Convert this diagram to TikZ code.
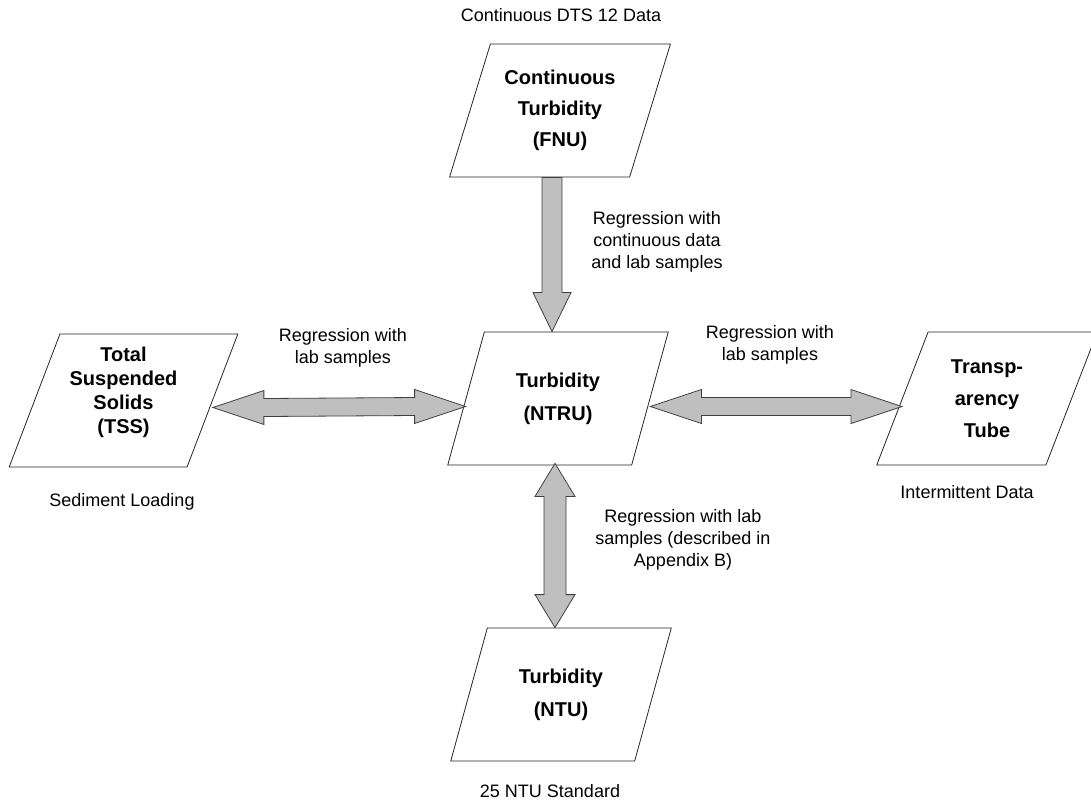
\documentclass[tikz,border=0pt]{standalone}
\usepackage{fontspec}
\setmainfont{Liberation Sans}
\usetikzlibrary{shapes.geometric,calc}

% block arrows (grey body, thin outline)
\newcommand{\twoheadh}[2]{%
  \draw[fat] (#1) -- ++(51,-17) -- ++(0,8) -- ($(#2)+(-51,-9)$) -- ++(0,-8) -- (#2)
    -- ++(-51,17) -- ++(0,-8) -- ($(#1)+(51,9)$) -- ++(0,8) -- cycle;}
\newcommand{\twoheadv}[2]{%
  \draw[fat] (#1) -- ++(20,33) -- ++(-9,0) -- ($(#2)+(11,-33)$) -- ++(9,0) -- (#2)
    -- ++(-20,-33) -- ++(9,0) -- ($(#1)+(-11,33)$) -- ++(-9,0) -- cycle;}

\begin{document}
\begin{tikzpicture}[x=0.5pt,y=-0.5pt,
  box/.style={trapezium, trapezium left angle=68, trapezium right angle=112,
    trapezium stretches=true, draw=black!85, thin, minimum width=111pt,
    minimum height=66.5pt, inner sep=0pt, align=center,
    font=\bfseries\fontsize{10}{12}\selectfont},
  note/.style={align=center, font=\fontsize{9}{11}\selectfont},
  fat/.style={draw=black!75, fill=black!25, thin}]
  \useasboundingbox (0,0) rectangle (1091,800);

  % data boxes
  \node[box] (fnu) at (560,110.5) {Continuous\\[3.5pt]Turbidity\\[3.5pt](FNU)};
  \node[box, minimum width=114.5pt] (tss) at (123.5,400.5) {Total\\Suspended\\Solids\\(TSS)\\[-2pt]\mbox{}};
  \node[box] (ntru) at (558,398.5) {Turbidity\\[4.5pt](NTRU)};
  \node[box] (transp) at (987,398.5) {Transp-\\[4pt]arency\\[4pt]Tube};
  \node[box] (ntu) at (561,694.5) {Turbidity\\[4.5pt](NTU)};

  % captions
  \node[note] (c1) at (561,15) {Continuous DTS 12 Data};
  \node[note] (c2) at (122,502) {Sediment Loading};
  \node[note] (c3) at (967,492) {Intermittent Data};
  \node[note] (c4) at (550,791) {25 NTU Standard};

  % arrow ends
  \coordinate (a1) at ($(fnu.center |- fnu.south)+(-8,0)$);
  \coordinate (a2) at (a1 |- ntru.north);
  \coordinate (b1) at ($(tss.east)+(0,7)$);
  \coordinate (b2) at ($(ntru.west)+(0,8)$);
  \coordinate (d1) at ($(ntru.east)+(0,8)$);
  \coordinate (d2) at ($(transp.west)+(0,8)$);
  \coordinate (e1) at ($(ntru.center |- ntru.south)+(-3,-2)$);
  \coordinate (e2) at (e1 |- ntu.north);

  \draw[fat] ($(a1)+(-10,0)$) -- ($(a2)+(-10,-39)$) -- ++(-9,0) -- (a2)
    -- ++(19,-39) -- ++(-9,0) -- ($(a1)+(10,0)$) -- cycle;
  \twoheadh{b1}{b2}
  \twoheadh{d1}{d2}
  \twoheadv{e1}{e2}

  % arrow labels
  \node[note] (r1) at (657,242) {Regression with\\continuous data\\and lab samples};
  \node[note] (r2) at (343,348) {Regression with\\lab samples};
  \node[note] (r3) at (770,345) {Regression with\\lab samples};
  \node[note] (r4) at (683,540) {Regression with lab\\samples (described in\\Appendix B)};
\end{tikzpicture}
\end{document}
